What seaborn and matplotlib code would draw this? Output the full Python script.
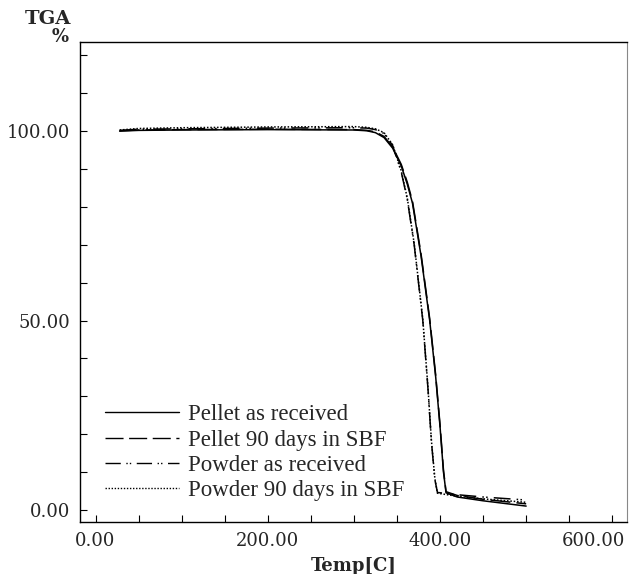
import matplotlib
matplotlib.use("Agg")
import matplotlib.pyplot as plt
from matplotlib.ticker import MultipleLocator, FixedLocator
from matplotlib.transforms import ScaledTranslation
import seaborn as sns

# TGA curves
temp_pellet = [28, 50, 100, 200, 300, 315, 325, 335, 345, 355, 362, 368, 378, 388, 395, 400, 404, 407, 420, 450, 500]
wt_pellet = [100.0, 100.2, 100.3, 100.4, 100.3, 100.1, 99.6, 98.3, 95.5, 90.8, 86.0, 81.0, 67.0, 50.0, 35.0, 22.0, 10.0, 4.5, 3.4, 2.4, 1.0]
wt_pellet_sbf = [100.1, 100.3, 100.4, 100.5, 100.4, 100.2, 99.8, 98.6, 95.8, 91.2, 86.5, 81.5, 67.5, 50.5, 35.5, 22.5, 10.5, 4.8, 3.8, 2.8, 1.6]

temp_powder = [28, 50, 100, 200, 300, 315, 325, 335, 345, 355, 362, 370, 380, 386, 390, 394, 397, 420, 450, 500]
wt_powder = [100.2, 100.5, 100.6, 100.8, 100.9, 100.8, 100.4, 99.4, 96.2, 89.2, 82.0, 70.0, 50.0, 32.0, 18.0, 8.0, 4.6, 4.0, 3.4, 2.6]
wt_powder_sbf = [100.3, 100.7, 100.9, 101.1, 101.2, 101.0, 100.6, 99.6, 96.4, 89.5, 82.3, 70.3, 50.3, 32.3, 18.3, 8.3, 4.4, 3.6, 2.9, 2.0]

labels = ["Pellet as received", "Pellet 90 days in SBF", "Powder as received", "Powder 90 days in SBF"]

sns.set_style("ticks")
plt.rcParams["font.family"] = ["DejaVu Serif"]

fig = plt.figure(figsize=(6.33, 5.74), dpi=100)
ax = fig.add_axes([0.1264, 0.0906, 0.864, 0.836])

styles = ["-", (0, (13, 4)), (0, (11, 4, 1, 1.5, 1, 4)), (0, (1, 1.2))]
series = [(temp_pellet, wt_pellet), (temp_pellet, wt_pellet_sbf),
          (temp_powder, wt_powder), (temp_powder, wt_powder_sbf)]
for (t, w), ls, lab in zip(series, styles, labels):
    sns.lineplot(x=t, y=w, ax=ax, color="black", linewidth=1.1, label=lab, sort=False)
    ax.lines[-1].set_linestyle(ls)

ax.set_xlim(-18, 617)
ax.set_ylim(-3.2, 123.5)

ax.xaxis.set_major_locator(FixedLocator([0, 200, 400, 600]))
ax.xaxis.set_minor_locator(MultipleLocator(50))
ax.yaxis.set_major_locator(FixedLocator([0, 50, 100]))
ax.yaxis.set_minor_locator(MultipleLocator(10))
ax.set_xticklabels(["0.00", "200.00", "400.00", "600.00"], fontsize=13)
ax.set_yticklabels(["0.00", "50.00", "100.00"], fontsize=13)
ax.tick_params(which="both", direction="in", length=5, width=0.8, color="black")
ax.tick_params(axis="x", pad=7)
ax.tick_params(axis="y", pad=7)

# last x label sits a little left of its tick so it stays inside the page
last = ax.get_xticklabels()[-1]
last.set_transform(last.get_transform() + ScaledTranslation(-0.19, 0, fig.dpi_scale_trans))

for side in ["left", "bottom", "top"]:
    ax.spines[side].set_color("black")
    ax.spines[side].set_linewidth(1.0)
ax.spines["right"].set_color("#888888")
ax.spines["right"].set_linewidth(0.8)

ax.set_xlabel("Temp[C]", fontsize=13, fontweight="bold", labelpad=5)
ax.set_ylabel("")
fig.text(0.0758, 0.967, "TGA", fontsize=14, fontweight="bold", ha="center", va="center")
fig.text(0.0948, 0.935, "%", fontsize=13, fontweight="bold", ha="center", va="center")

leg = ax.legend(loc="upper left", bbox_to_anchor=(0.046, 0.245), frameon=False,
                borderaxespad=0, borderpad=0,
                prop={"family": "Liberation Serif", "size": 16.5},
                handlelength=3.2, handletextpad=0.4, labelspacing=0.18)
for h in leg.get_lines():
    h.set_linewidth(1.0)

fig.savefig("out.png", dpi=100)
